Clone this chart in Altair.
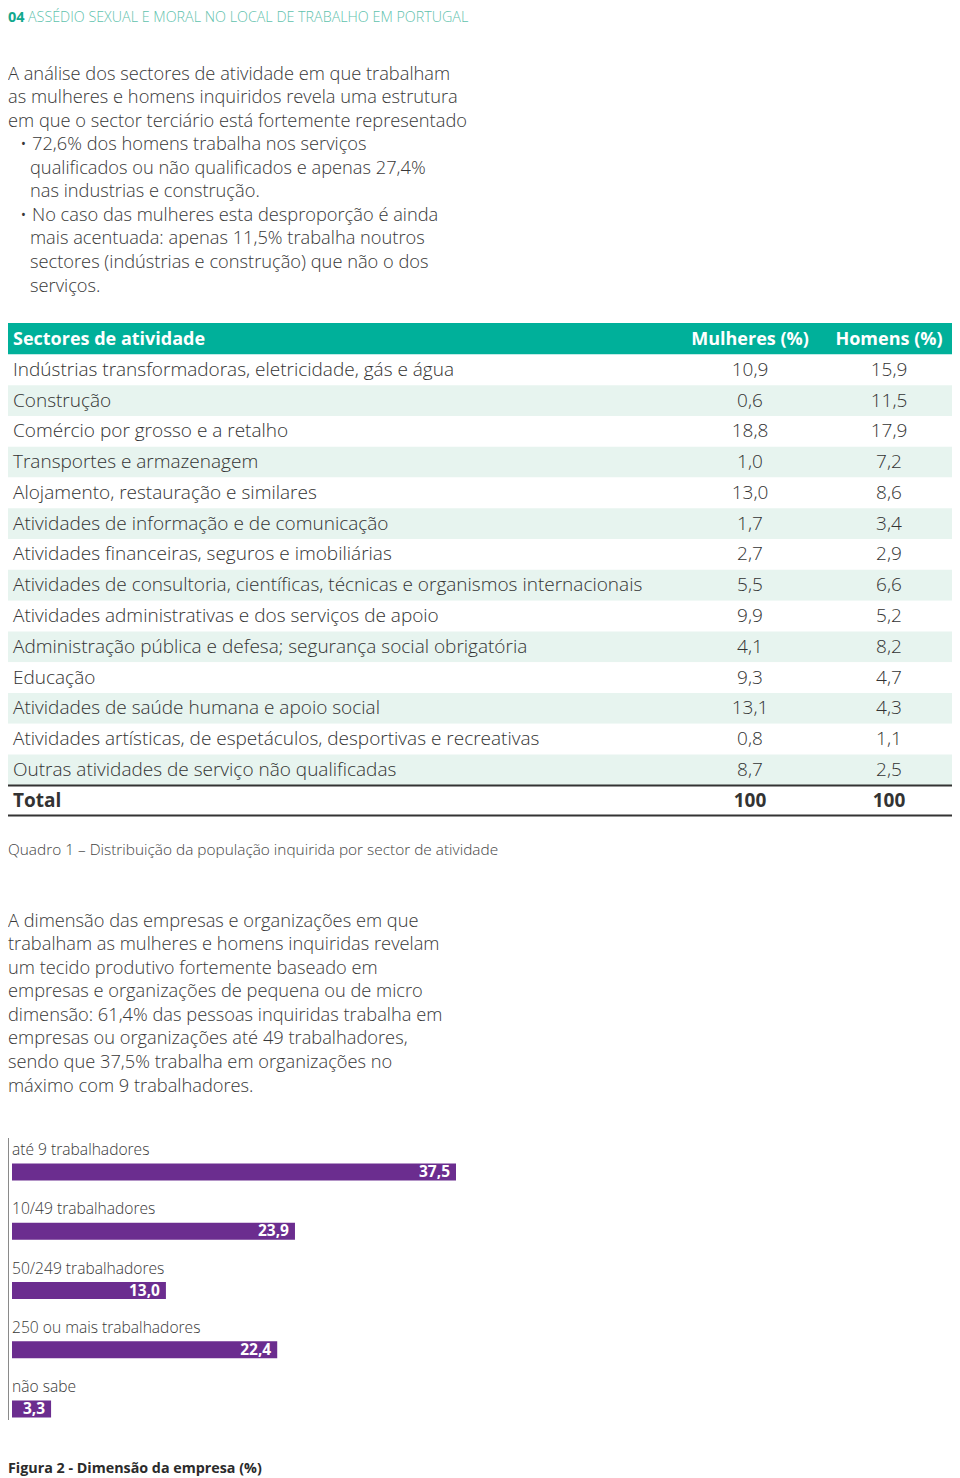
import altair as alt
import pandas as pd

FONT = "Open Sans"
TEAL = "#00b09a"
PURPLE = "#6b2d8f"
TXT = "#383838"

header_num = "04"
header_title = "ASSÉDIO SEXUAL E MORAL NO LOCAL DE TRABALHO EM PORTUGAL"

para1_lines = [
    "A análise dos sectores de atividade em que trabalham",
    "as mulheres e homens inquiridos revela uma estrutura",
    "em que o sector terciário está fortemente representado",
    "• 72,6% dos homens trabalha nos serviços",
    "qualificados ou não qualificados e apenas 27,4%",
    "nas industrias e construção.",
    "• No caso das mulheres esta desproporção é ainda",
    "mais acentuada: apenas 11,5% trabalha noutros",
    "sectores (indústrias e construção) que não o dos",
    "serviços.",
]
para1_kind = ["plain", "plain", "plain", "bullet", "cont", "cont", "bullet", "cont", "cont", "cont"]

table_header_label = "Sectores de atividade"
table_header_cols = ["Mulheres (%)", "Homens (%)"]
sectors = [
    "Indústrias transformadoras, eletricidade, gás e água",
    "Construção",
    "Comércio por grosso e a retalho",
    "Transportes e armazenagem",
    "Alojamento, restauração e similares",
    "Atividades de informação e de comunicação",
    "Atividades financeiras, seguros e imobiliárias",
    "Atividades de consultoria, científicas, técnicas e organismos internacionais",
    "Atividades administrativas e dos serviços de apoio",
    "Administração pública e defesa; segurança social obrigatória",
    "Educação",
    "Atividades de saúde humana e apoio social",
    "Atividades artísticas, de espetáculos, desportivas e recreativas",
    "Outras atividades de serviço não qualificadas",
]
mulheres = [10.9, 0.6, 18.8, 1.0, 13.0, 1.7, 2.7, 5.5, 9.9, 4.1, 9.3, 13.1, 0.8, 8.7]
homens = [15.9, 11.5, 17.9, 7.2, 8.6, 3.4, 2.9, 6.6, 5.2, 8.2, 4.7, 4.3, 1.1, 2.5]
total_label = "Total"
total_m = 100
total_h = 100

caption1 = "Quadro 1 – Distribuição da população inquirida por sector de atividade"

para2_lines = [
    "A dimensão das empresas e organizações em que",
    "trabalham as mulheres e homens inquiridas revelam",
    "um tecido produtivo fortemente baseado em",
    "empresas e organizações de pequena ou de micro",
    "dimensão: 61,4% das pessoas inquiridas trabalha em",
    "empresas ou organizações até 49 trabalhadores,",
    "sendo que 37,5% trabalha em organizações no",
    "máximo com 9 trabalhadores.",
]

size_cats = ["até 9 trabalhadores", "10/49 trabalhadores", "50/249 trabalhadores",
             "250 ou mais trabalhadores", "não sabe"]
size_vals = [37.5, 23.9, 13.0, 22.4, 3.3]

caption2 = "Figura 2 - Dimensão da empresa (%)"

W, H = 944, 1470

# ---------- data frames ----------
p1 = pd.DataFrame({"line": para1_lines, "i": range(len(para1_lines)), "kind": para1_kind})
p2 = pd.DataFrame({"line": para2_lines, "i": range(len(para2_lines))})
rows = sectors + [total_label]
tab = pd.DataFrame({
    "row": rows,
    "idx": range(len(rows)),
    "m": mulheres + [total_m],
    "h": homens + [total_h],
})
tab["total"] = tab["row"] == total_label
long = pd.concat([
    pd.DataFrame({"row": tab["row"], "total": tab["total"], "col": "m", "val": tab["m"]}),
    pd.DataFrame({"row": tab["row"], "total": tab["total"], "col": "h", "val": tab["h"]}),
], ignore_index=True)
bars = pd.DataFrame({"cat": size_cats, "v": size_vals})
hdr = pd.DataFrame({"t": table_header_cols, "col": ["m", "h"]})

one = pd.DataFrame({"a": [1]})

# ---------- header ----------
head_num = alt.Chart(pd.DataFrame({"t": [header_num]})).mark_text(
    align="left", baseline="alphabetic", font=FONT, fontSize=14.5, fontWeight="bold", color="#13a88e"
).encode(text="t:N", x=alt.value(0), y=alt.value(14))
head_title = alt.Chart(pd.DataFrame({"t": [header_title]})).mark_text(
    align="left", baseline="alphabetic", font=FONT, fontSize=14.3, fontWeight=300, color="#5fc2ad"
).encode(text="t:N", x=alt.value(20), y=alt.value(14))

# ---------- paragraph 1 ----------
p1_y = alt.Y("i:Q", scale=alt.Scale(domain=[0, 9], range=[66.5, 278.5], nice=False, zero=False), axis=None)
P_SIZE = 18.25


def para1_part(kind, xpos):
    return alt.Chart(p1).transform_filter(f"datum.kind == '{kind}'").transform_calculate(
        txt="replace(datum.line, '• ', '')"
    ).mark_text(
        align="left", baseline="middle", font=FONT, fontSize=P_SIZE, fontWeight=300, color=TXT
    ).encode(text="txt:N", x=alt.value(xpos), y=p1_y)


para1_plain = para1_part("plain", 0)
para1_bullet = para1_part("bullet", 24)
para1_cont = para1_part("cont", 22)
para1_dots = alt.Chart(p1).transform_filter("datum.kind == 'bullet'").transform_calculate(
    dot="'•'"
).mark_text(
    align="left", baseline="middle", font=FONT, fontSize=P_SIZE, fontWeight=300, color=TXT
).encode(text="dot:N", x=alt.value(12), y=p1_y)

# ---------- table ----------
row_scale = alt.Scale(domain=rows, range=[346.5, 808], paddingInner=0, paddingOuter=0)
col_scale = alt.Scale(type="point", domain=["m", "h"], range=[742, 881], padding=0)
head_band = alt.Chart(one).mark_rect(color=TEAL).encode(
    x=alt.value(0), x2=alt.value(950), y=alt.value(315), y2=alt.value(346.5)
)
head_label = alt.Chart(pd.DataFrame({"t": [table_header_label]})).mark_text(
    align="left", baseline="middle", font=FONT, fontSize=18, fontWeight="bold", color="white"
).encode(text="t:N", x=alt.value(5), y=alt.value(332))
head_cols = alt.Chart(hdr).mark_text(
    align="center", baseline="middle", font=FONT, fontSize=18, fontWeight="bold", color="white"
).encode(
    text="t:N",
    x=alt.X("col:N", scale=col_scale, axis=None),
    y=alt.value(332),
)
row_bg = alt.Chart(tab).mark_rect().encode(
    x=alt.value(0), x2=alt.value(950),
    y=alt.Y("row:N", scale=row_scale, axis=None, sort=rows),
    color=alt.condition("datum.idx % 2 == 1", alt.value("#e7f4ef"), alt.value("white")),
)


def row_text(weight, is_total):
    flt = "datum.total" if is_total else "!datum.total"
    lab = alt.Chart(tab).transform_filter(flt).mark_text(
        align="left", baseline="middle", font=FONT, fontSize=19, fontWeight=weight, color="#333333"
    ).encode(
        text="row:N",
        x=alt.value(5),
        y=alt.Y("row:N", scale=row_scale, axis=None, sort=rows),
    )
    vals = alt.Chart(long).transform_filter(flt).transform_calculate(
        lab="datum.total ? format(datum.val, 'd') : replace(format(datum.val, '.1f'), '.', ',')"
    ).mark_text(
        align="center", baseline="middle", font=FONT, fontSize=19, fontWeight=weight, color="#333333"
    ).encode(
        text="lab:N",
        x=alt.X("col:N", scale=col_scale, axis=None),
        y=alt.Y("row:N", scale=row_scale, axis=None, sort=rows),
    )
    return [lab, vals]


body_layers = row_text(300, False)
total_layers = row_text("bold", True)

rule_top = alt.Chart(one).mark_rule(color="#333333", strokeWidth=2).encode(
    x=alt.value(0), x2=alt.value(950), y=alt.value(777.5)
)
rule_bot = alt.Chart(one).mark_rule(color="#333333", strokeWidth=2).encode(
    x=alt.value(0), x2=alt.value(950), y=alt.value(807.5)
)

cap1 = alt.Chart(pd.DataFrame({"t": [caption1]})).mark_text(
    align="left", baseline="middle", font=FONT, fontSize=15.4, fontWeight=300, color="#444444"
).encode(text="t:N", x=alt.value(0), y=alt.value(842))

# ---------- paragraph 2 ----------
para2 = alt.Chart(p2).mark_text(
    align="left", baseline="middle", font=FONT, fontSize=P_SIZE, fontWeight=300, color=TXT
).encode(
    text="line:N",
    x=alt.value(0),
    y=alt.Y("i:Q", scale=alt.Scale(domain=[0, 7], range=[913.5, 1078.5], nice=False, zero=False), axis=None),
)

# ---------- bar chart ----------
bar_y = alt.Scale(domain=size_cats, range=[1134.4, 1430.6], paddingInner=0, paddingOuter=0)
bar_x = alt.Scale(domain=[0, 37.5], range=[4, 448], nice=False, zero=True)
axis_line = alt.Chart(one).mark_rule(color="#8a8a8a", strokeWidth=1).encode(
    x=alt.value(0.5), y=alt.value(1130), y2=alt.value(1412)
)
bar_marks = alt.Chart(bars).mark_bar(color=PURPLE, size=17).encode(
    x=alt.X("v:Q", scale=bar_x, axis=None),
    y=alt.Y("cat:N", scale=bar_y, axis=None, sort=size_cats),
)
bar_vals = alt.Chart(bars).transform_calculate(
    lab="replace(format(datum.v, '.1f'), '.', ',')"
).mark_text(align="right", baseline="middle", dx=-6, font=FONT, fontSize=15.5, fontWeight="bold", color="white").encode(
    text="lab:N",
    x=alt.X("v:Q", scale=bar_x, axis=None),
    y=alt.Y("cat:N", scale=bar_y, axis=None, sort=size_cats),
)
bar_labels = alt.Chart(bars).mark_text(
    align="left", baseline="middle", dy=-22, font=FONT, fontSize=15.6, fontWeight=300, color=TXT
).encode(
    text="cat:N",
    x=alt.value(4),
    y=alt.Y("cat:N", scale=bar_y, axis=None, sort=size_cats),
)

cap2 = alt.Chart(pd.DataFrame({"t": [caption2]})).mark_text(
    align="left", baseline="middle", font=FONT, fontSize=14.3, fontWeight="bold", color="#2b2b2b"
).encode(text="t:N", x=alt.value(0), y=alt.value(1461))

chart = alt.layer(
    head_num, head_title, para1_plain, para1_bullet, para1_cont, para1_dots,
    head_band, head_label, head_cols, row_bg, *body_layers, *total_layers, rule_top, rule_bot,
    cap1, para2,
    axis_line, bar_marks, bar_vals, bar_labels, cap2,
).resolve_scale(
    x="independent", y="independent"
).properties(
    width=W, height=H, autosize=alt.AutoSizeParams(type="none"), padding=0
).configure_view(stroke=None)

chart.save("out.html", embed_options={"renderer": "svg", "actions": False})
